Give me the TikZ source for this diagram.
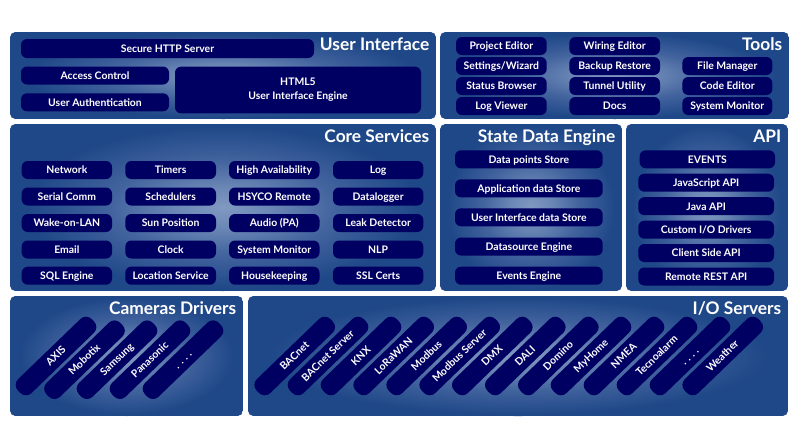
\documentclass[tikz,border=0pt]{standalone}
\usepackage{fontspec}
\setmainfont{Lato}
\definecolor{panelblue}{RGB}{31,72,136}
\definecolor{boxnavy}{RGB}{0,0,98}
\pgfdeclareradialshading{panelglow}{\pgfpointorigin}{rgb(0bp)=(0.50,0.60,0.76); rgb(6bp)=(0.42,0.53,0.71); rgb(14bp)=(0.26,0.39,0.62); rgb(24.5bp)=(0.122,0.282,0.533); rgb(50bp)=(0.122,0.282,0.533)}
\newcommand{\panelbox}[6]{% name x1 y1 x2 y2 title
  \begin{scope}
    \clip[rounded corners=4pt] (#2,#3) rectangle (#4,#5);
    \fill[panelblue] (#2,#3) rectangle (#4,#5);
    \shade[shading=panelglow] ({(#2+#4)/2},{(#3+#5)/2}) ellipse ({(#4-#2)*0.47} and {(#5-#3)*0.5});
  \end{scope}
  \node[titletext] (#1) at ({#4-6.5},{#3+12.7}) {#6};
}
\newcommand{\flatbox}[6]{% name x1 y1 x2 y2 text
  \node[flatline, minimum width={(#4-#2)*0.75pt}, minimum height={(#5-#3)*0.75pt}] (#1) at ({(#2+#4)/2},{(#3+#5)/2}) {#6};
}
\newcommand{\barbox}[4]{% name cx cy text
  \node[slant] (#1) at (#2,#3) {#4};
}
\tikzset{
  flat/.style={fill=boxnavy, rounded corners=4.5pt, text=white, inner sep=0pt, align=center, font=\fontsize{7.8}{10.3}\selectfont\bfseries},
  flatline/.style={flat, text height=6.4pt, text depth=0.7pt},
  slant/.style={fill=boxnavy, rounded corners=6pt, text=white, inner sep=0pt, rotate=44, minimum width=77pt, minimum height=14.5pt, text height=6pt, text depth=1pt, font=\fontsize{7.8}{9}\selectfont\bfseries},
  titletext/.style={anchor=east, text=white, inner sep=0pt, text height=10.5pt, text depth=1.5pt, font=\fontsize{13}{15}\selectfont\bfseries},
}
\begin{document}
\begin{tikzpicture}[x=0.75pt,y=-0.75pt]
\useasboundingbox (0,0) rectangle (800,433);
\panelbox{ui}{10}{32}{436}{119}{User Interface}
\panelbox{tools}{440}{32}{789}{119}{Tools}
\panelbox{core}{10}{124}{436}{291}{Core Services}
\panelbox{state}{440}{124}{622}{291}{State Data Engine}
\panelbox{api}{626}{124}{788}{291}{API}
\panelbox{cams}{10}{296}{243}{416}{Cameras Drivers}
\panelbox{io}{248}{296}{788}{416}{I/O Servers}
% User Interface
\flatbox{http}{21}{39}{314}{58}{Secure HTTP Server}
\flatbox{access}{21}{66.5}{169}{84.5}{Access Control}
\flatbox{auth}{21}{93.3}{169}{111.3}{User Authentication}
\node[flat, minimum width=184.5pt, minimum height=35pt] (html) at (298,90) {HTML5\\User Interface Engine};
% Tools
\flatbox{t1}{456}{37}{546.7}{55}{Project Editor}
\flatbox{t2}{456}{57}{546.7}{75}{Settings/Wizard}
\flatbox{t3}{456}{77}{546.7}{95}{Status Browser}
\flatbox{t4}{456}{97}{546.7}{115}{Log Viewer}
\flatbox{t5}{569.3}{37}{660}{55}{Wiring Editor}
\flatbox{t6}{569.3}{57}{660}{75}{Backup Restore}
\flatbox{t7}{569.3}{77}{660}{95}{Tunnel Utility}
\flatbox{t8}{569.3}{97}{660}{115}{Docs}
\flatbox{t9}{682.3}{57}{772.3}{75}{File Manager}
\flatbox{t10}{682.3}{77}{772.3}{95}{Code Editor}
\flatbox{t11}{682.3}{97}{772.3}{115}{System Monitor}
% Core
\flatbox{c1}{21.7}{161}{112}{179}{Network}
\flatbox{c2}{21.7}{187.5}{112}{205.5}{Serial Comm}
\flatbox{c3}{21.7}{214}{112}{232}{Wake-on-LAN}
\flatbox{c4}{21.7}{240.5}{112}{258.5}{Email}
\flatbox{c5}{21.7}{266.7}{112}{284.7}{SQL Engine}
\flatbox{c6}{125.3}{161}{216}{179}{Timers}
\flatbox{c7}{125.3}{187.5}{216}{205.5}{Schedulers}
\flatbox{c8}{125.3}{214}{216}{232}{Sun Position}
\flatbox{c9}{125.3}{240.5}{216}{258.5}{Clock}
\flatbox{c10}{125.3}{266.7}{216}{284.7}{Location Service}
\flatbox{c11}{229}{161}{319.5}{179}{High Availability}
\flatbox{c12}{229}{187.5}{319.5}{205.5}{HSYCO Remote}
\flatbox{c13}{229}{214}{319.5}{232}{Audio (PA)}
\flatbox{c14}{229}{240.5}{319.5}{258.5}{System Monitor}
\flatbox{c15}{229}{266.7}{319.5}{284.7}{Housekeeping}
\flatbox{c16}{333}{161}{423.3}{179}{Log}
\flatbox{c17}{333}{187.5}{423.3}{205.5}{Datalogger}
\flatbox{c18}{333}{214}{423.3}{232}{Leak Detector}
\flatbox{c19}{333}{240.5}{423.3}{258.5}{NLP}
\flatbox{c20}{333}{266.7}{423.3}{284.7}{SSL Certs}
% State
\flatbox{s1}{455}{150.3}{602.7}{168.3}{Data points Store}
\flatbox{s2}{455}{179.3}{602.7}{197.3}{Application data Store}
\flatbox{s3}{455}{208.3}{602.7}{226.3}{User Interface data Store}
\flatbox{s4}{455}{237.5}{602.7}{255.5}{Datasource Engine}
\flatbox{s5}{455}{266.7}{602.7}{284.7}{Events Engine}
% API
\flatbox{a1}{639.7}{150.3}{775}{168.3}{EVENTS}
\flatbox{a2}{638.3}{173.7}{774}{191.7}{JavaScript API}
\flatbox{a3}{638.3}{197.2}{774}{215.2}{Java API}
\flatbox{a4}{638.3}{220.7}{774}{238.7}{Custom I/O Drivers}
\flatbox{a5}{638.3}{244}{774}{262}{Client Side API}
\flatbox{a6}{638.3}{267.5}{774}{285.5}{Remote REST API}
% Cameras
\barbox{b1}{56}{356}{AXIS}
\barbox{b2}{84.5}{359.7}{Mobotix}
\barbox{b3}{117}{359.7}{Samsung}
\barbox{b4}{150}{359.7}{Panasonic}
\barbox{b5}{183}{359.7}{. . . .}
% I/O
\barbox{i1}{294.7}{356}{BACnet}
\barbox{i2}{328}{356}{BACnet Server}
\barbox{i3}{361}{356}{KNX}
\barbox{i4}{393.7}{356}{LoRaWAN}
\barbox{i5}{426.7}{356}{Modbus}
\barbox{i6}{459.7}{356}{Modbus Server}
\barbox{i7}{492.3}{356}{DMX}
\barbox{i8}{525.3}{356}{DALI}
\barbox{i9}{558.3}{356}{Domino}
\barbox{i10}{591}{356}{MyHome}
\barbox{i11}{624}{356}{NMEA}
\barbox{i12}{657}{356}{Tecnoalarm}
\barbox{i13}{690}{356}{. . . .}
\barbox{i14}{722.7}{356}{Weather}
\end{tikzpicture}
\end{document}
